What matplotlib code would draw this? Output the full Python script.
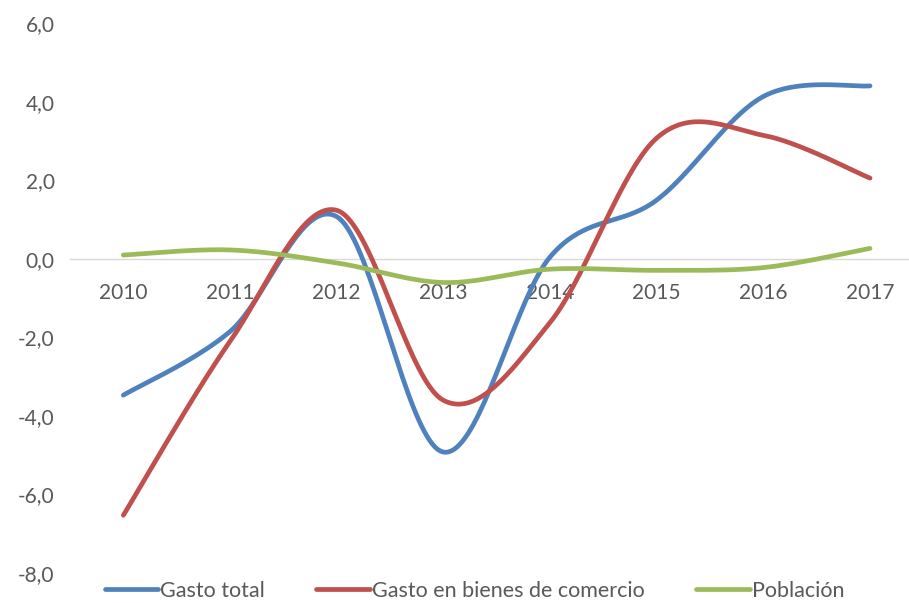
import numpy as np
import matplotlib
matplotlib.use("Agg")
from matplotlib import pyplot as plt

# data
years = ["2010", "2011", "2012", "2013", "2014", "2015", "2016", "2017"]
gasto_total = [-3.47, -1.85, 1.08, -4.92, 0.05, 1.5, 4.14, 4.41]
gasto_bienes = [-6.53, -2.1, 1.24, -3.6, -1.62, 3.08, 3.15, 2.06]
poblacion = [0.1, 0.23, -0.1, -0.6, -0.26, -0.29, -0.22, 0.27]

series_names = ["Gasto total", "Gasto en bienes de comercio", "Población"]
colors = ["#4F81BD", "#C0504D", "#9BBB59"]
text_color = "#595959"

plt.rcParams['font.family'] = ['Lato', 'DejaVu Sans']


def smooth(xs, ys, n=40):
    # catmull-rom through the points, like Excel's "smoothed line"
    pts = np.column_stack([xs, ys]).astype(float)
    padded = np.vstack([pts[0], pts, pts[-1]])
    out = []
    for i in range(len(pts) - 1):
        p0, p1, p2, p3 = padded[i], padded[i + 1], padded[i + 2], padded[i + 3]
        m1 = (p2 - p0) / 2
        m2 = (p3 - p1) / 2
        t = np.linspace(0, 1, n)[:, None]
        h00 = 2 * t**3 - 3 * t**2 + 1
        h10 = t**3 - 2 * t**2 + t
        h01 = -2 * t**3 + 3 * t**2
        h11 = t**3 - t**2
        seg = h00 * p1 + h10 * m1 + h01 * p2 + h11 * m2
        out.append(seg if i == 0 else seg[1:])
    out = np.vstack(out)
    return out[:, 0], out[:, 1]


fig = plt.figure(figsize=(9.09, 6.03), dpi=100)
ax = fig.add_axes([0.077, 0.0498, 0.9388, 0.9113])

x = np.arange(len(years))
for vals, name, c in zip([gasto_total, gasto_bienes, poblacion], series_names, colors):
    sx, sy = smooth(x, vals)
    ax.plot(sx, sy, color=c, lw=3.4, solid_capstyle='round', label=name)

ax.set_xlim(-0.5, len(years) - 0.5)
ax.set_ylim(-8, 6)
ax.set_yticks(np.arange(-8, 7, 2))
ax.set_yticklabels([f"{v:.1f}".replace(".", ",") for v in np.arange(-8, 7, 2)])
ax.set_xticks(x)
ax.set_xticklabels(years)

for s in ["top", "right", "left"]:
    ax.spines[s].set_visible(False)
ax.spines["bottom"].set_position(("data", 0))
ax.spines["bottom"].set_color("#D9D9D9")
ax.spines["bottom"].set_linewidth(1.0)
ax.spines["bottom"].set_zorder(0)

ax.tick_params(axis="x", length=0, pad=17, labelsize=15, colors=text_color)
ax.tick_params(axis="y", length=0, pad=11, labelsize=15, colors=text_color)

fig.legend(loc="center", bbox_to_anchor=(0.522, 0.02), ncol=3, frameon=False,
           fontsize=15.5, handlelength=2.5, handletextpad=0.08, columnspacing=2.4,
           labelcolor=text_color)

fig.savefig("out.png", dpi=100)
